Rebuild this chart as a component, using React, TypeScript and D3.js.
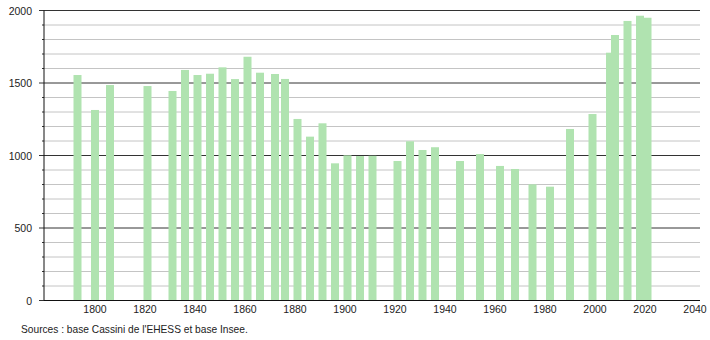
import React from "react";
import * as d3 from "d3";

const years = [1793, 1800, 1806, 1821, 1831, 1836, 1841, 1846, 1851, 1856, 1861, 1866, 1872, 1876, 1881, 1886, 1891, 1896, 1901, 1906, 1911, 1921, 1926, 1931, 1936, 1946, 1954, 1962, 1968, 1975, 1982, 1990, 1999, 2006, 2008, 2013, 2018, 2021];
const population = [1555, 1314, 1486, 1479, 1445, 1590, 1555, 1564, 1608, 1527, 1681, 1571, 1562, 1528, 1252, 1130, 1222, 946, 1001, 996, 998, 962, 1098, 1038, 1057, 962, 1010, 928, 907, 801, 785, 1183, 1286, 1709, 1831, 1928, 1964, 1950];
const xTicks = [1800, 1820, 1840, 1860, 1880, 1900, 1920, 1940, 1960, 1980, 2000, 2020, 2040];
const yMajor = [0, 500, 1000, 1500, 2000];
const sourceText = "Sources : base Cassini de l'EHESS et base Insee.";

const W = 710;
const H = 340;
const FONT = "'Liberation Sans', Arial, Helvetica, sans-serif";

export default function App() {
  const x = d3.scaleLinear().domain([1779.6, 2042]).range([44, 700]);
  const y = d3.scaleLinear().domain([0, 2000]).range([300.5, 10.5]);
  const minor = d3.range(0, 2001, 100).filter((v) => v % 500 !== 0);
  const barW = 8;
  const [x0, x1] = x.range();

  return (
    <svg
      width={W}
      height={H}
      style={{ position: "absolute", left: 0, top: 0, background: "#fff" }}
      fontFamily={FONT}
    >
      <rect x={0} y={0} width={W} height={H} fill="#fff" />
      {minor.map((v) => (
        <g key={"m" + v}>
          <line x1={x0} x2={x1} y1={y(v)} y2={y(v)} stroke="#c4c4c4" strokeWidth={1} />
          <line x1={x0 - 2} x2={x0} y1={y(v)} y2={y(v)} stroke="#333" strokeWidth={1} />
        </g>
      ))}
      {yMajor.map((v) => (
        <g key={"M" + v}>
          <line x1={x0 - 5} x2={x1} y1={y(v)} y2={y(v)} stroke="#333" strokeWidth={1} />
          <text x={32} y={y(v) + 4} textAnchor="end" fontSize={10.5} fill="#222">
            {v}
          </text>
        </g>
      ))}
      {years.map((yr, i) => (
        <rect
          key={yr}
          x={x(yr) - barW / 2}
          y={y(population[i])}
          width={barW}
          height={y(0) - y(population[i])}
          fill="#b0e3b0"
        />
      ))}
      <line x1={x0} x2={x1} y1={y(0)} y2={y(0)} stroke="#111" strokeWidth={1} />
      <line x1={x0} x2={x0} y1={y(2000)} y2={y(0)} stroke="#111" strokeWidth={1} />
      {xTicks.map((t) => (
        <text key={t} x={x(t)} y={313} textAnchor="middle" fontSize={10.5} fill="#222">
          {t}
        </text>
      ))}
      <text x={21} y={333} fontSize={10.2} fill="#222">
        {sourceText}
      </text>
    </svg>
  );
}
